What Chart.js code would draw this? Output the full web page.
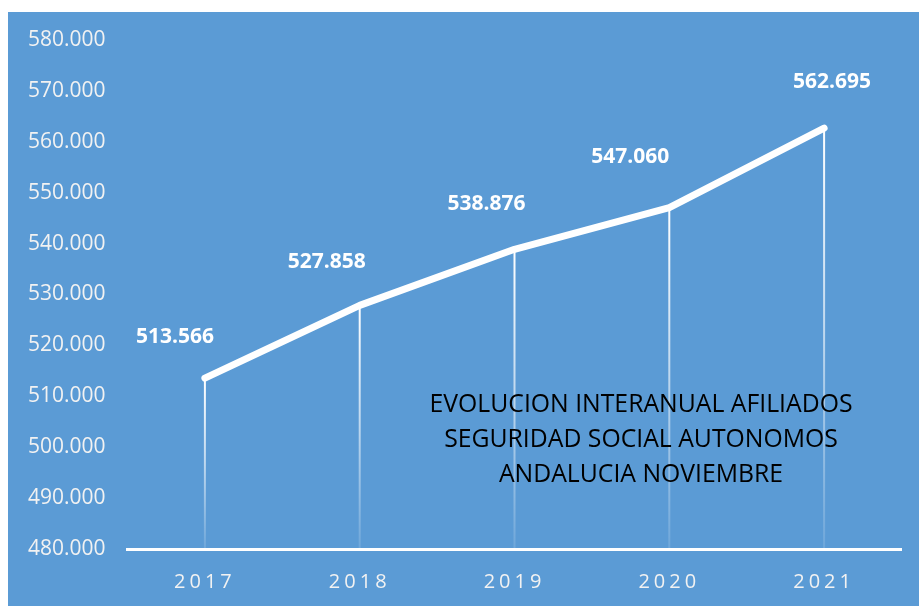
<!DOCTYPE html>
<html>
<head>
<meta charset="utf-8">
<script src="https://cdn.jsdelivr.net/npm/chart.js@4.4.1/dist/chart.umd.min.js"></script>
<style>
  html, body { margin: 0; padding: 0; background: #fff; }
  #wrap { position: relative; width: 919px; height: 606px; }
</style>
</head>
<body>
<div id="wrap"><canvas id="afiliadosChart" width="919" height="606"></canvas></div>
<script>
const years = ["2017", "2018", "2019", "2020", "2021"];
const afiliados = [513566, 527858, 538876, 547060, 562695];
const yTicks = [480000, 490000, 500000, 510000, 520000, 530000, 540000, 550000, 560000, 570000, 580000];
const titleLines = [
  "EVOLUCION INTERANUAL AFILIADOS",
  "SEGURIDAD SOCIAL AUTONOMOS",
  "ANDALUCIA NOVIEMBRE"
];

// label placement (dx, dy from the point), as in the original
const labelOffsets = [[-30, -41], [-33, -43], [-28, -45], [-39, -51], [8, -46]];

const BLUE = "#5B9BD5";
const fmt = (v) => String(v).replace(/\B(?=(\d{3})+(?!\d))/g, ".");

const backgroundPlugin = {
  id: "bg",
  beforeDraw(chart) {
    const ctx = chart.ctx;
    ctx.save();
    ctx.fillStyle = "#fff";
    ctx.fillRect(0, 0, chart.width, chart.height);
    ctx.fillStyle = BLUE;
    ctx.fillRect(8, 12, chart.width - 8, chart.height - 12);
    ctx.restore();
  }
};

const dropLinesPlugin = {
  id: "dropLines",
  beforeDatasetsDraw(chart) {
    const ctx = chart.ctx;
    const bottom = chart.chartArea.bottom;
    const meta = chart.getDatasetMeta(0);
    ctx.save();
    ctx.lineWidth = 2;
    meta.data.forEach((p) => {
      const g = ctx.createLinearGradient(0, p.y, 0, bottom);
      g.addColorStop(0, "rgba(255,255,255,1)");
      g.addColorStop(0.5, "rgba(255,255,255,0.6)");
      g.addColorStop(1, "rgba(255,255,255,0.12)");
      ctx.strokeStyle = g;
      ctx.beginPath();
      ctx.moveTo(p.x, p.y);
      ctx.lineTo(p.x, bottom);
      ctx.stroke();
    });
    ctx.restore();
  }
};

const labelsPlugin = {
  id: "labels",
  afterDraw(chart) {
    const ctx = chart.ctx;
    const meta = chart.getDatasetMeta(0);
    const xScale = chart.scales.x;
    ctx.save();

    // data labels
    ctx.fillStyle = "#fff";
    ctx.font = "bold 21px 'Open Sans'";
    ctx.textAlign = "center";
    ctx.textBaseline = "middle";
    meta.data.forEach((p, i) => {
      const [dx, dy] = labelOffsets[i];
      ctx.fillText(fmt(afiliados[i]), p.x + dx, p.y + dy);
    });

    // x tick labels (spaced out)
    ctx.font = "20px 'Open Sans'";
    ctx.fillStyle = "#F2F2F2";
    ctx.textBaseline = "alphabetic";
    ctx.letterSpacing = "4px";
    years.forEach((y, i) => {
      ctx.fillText(y, xScale.getPixelForValue(i), 588);
    });
    ctx.letterSpacing = "0px";

    // title text inside the plot
    ctx.fillStyle = "#000";
    ctx.font = "25px 'Open Sans'";
    ctx.textAlign = "center";
    const sx = 423 / ctx.measureText(titleLines[0]).width;
    const baselines = [412, 447, 482];
    titleLines.forEach((t, i) => {
      ctx.save();
      ctx.translate(641, baselines[i]);
      ctx.scale(sx, 1);
      ctx.fillText(t, 0, 0);
      ctx.restore();
    });
    ctx.restore();
  }
};

const ctx = document.getElementById("afiliadosChart").getContext("2d");

new Chart(ctx, {
  type: "line",
  data: {
    labels: years,
    datasets: [
      {
        label: "Afiliados",
        data: afiliados,
        borderColor: "#fff",
        borderWidth: 7,
        borderCapStyle: "round",
        borderJoinStyle: "round",
        pointRadius: 0,
        pointHoverRadius: 0,
        tension: 0,
        clip: false
      }
    ]
  },
  options: {
    responsive: false,
    devicePixelRatio: 1,
    animation: false,
    events: [],
    layout: { padding: { top: 40, right: 17.5, left: 0, bottom: 0 } },
    plugins: {
      legend: { display: false },
      tooltip: { enabled: false },
      title: { display: false }
    },
    scales: {
      x: {
        type: "category",
        offset: true,
        grid: { display: false, drawTicks: false },
        border: { display: true, color: "#fff", width: 3 },
        ticks: { display: false },
        afterFit(scale) { scale.height = 57; }
      },
      y: {
        min: 480000,
        max: 580000,
        grid: { display: false, drawTicks: false },
        border: { display: false },
        afterBuildTicks(scale) {
          scale.ticks = yTicks.map((v) => ({ value: v }));
        },
        ticks: {
          color: "#F2F2F2",
          padding: 22,
          font: { family: "'Open Sans'", size: 21 },
          callback: (v) => fmt(v)
        },
        afterFit(scale) { scale.width = 127.5; }
      }
    }
  },
  plugins: [backgroundPlugin, dropLinesPlugin, labelsPlugin]
});
</script>
</body>
</html>
